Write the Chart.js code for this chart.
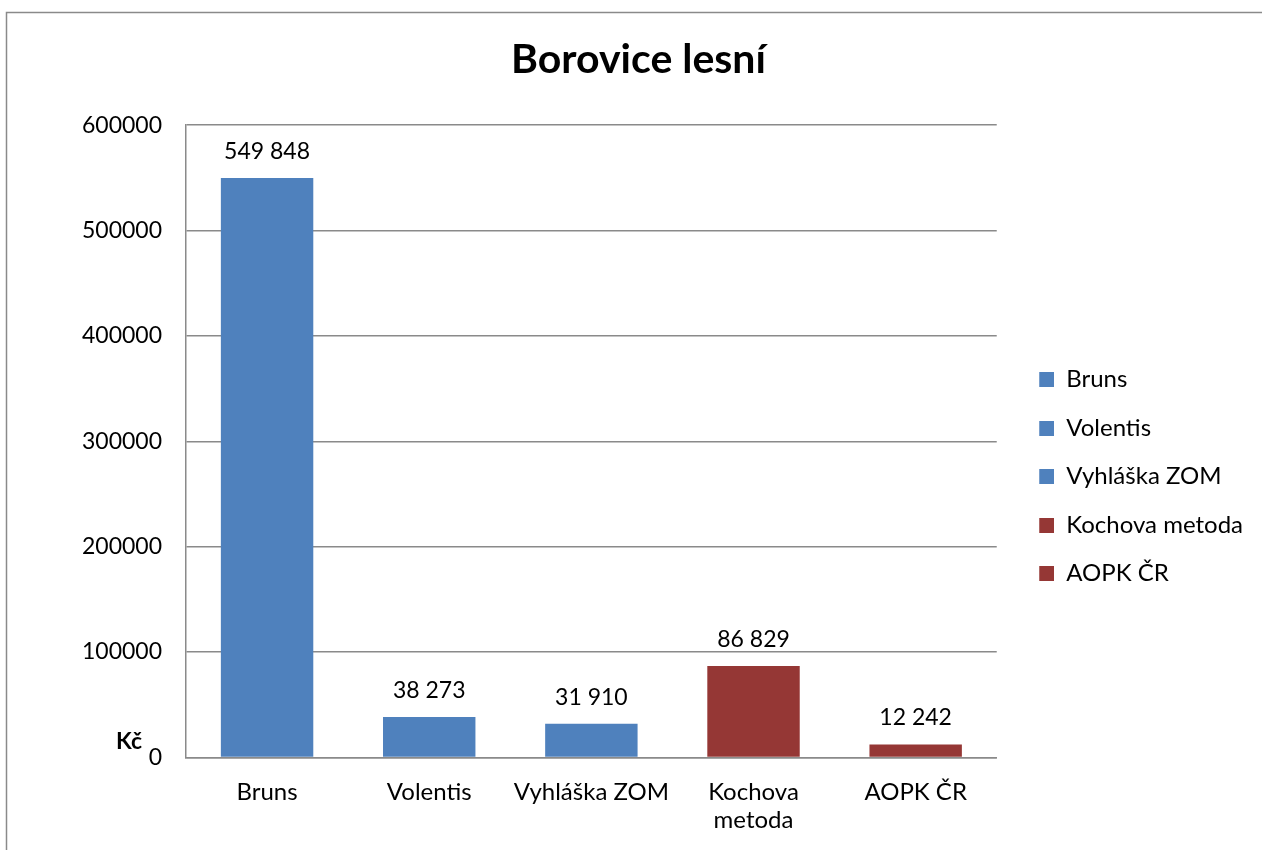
<!DOCTYPE html>
<html>
<head>
<meta charset="utf-8">
<script src="https://cdn.jsdelivr.net/npm/chart.js@4/dist/chart.umd.min.js"></script>
<style>
  html, body { margin: 0; padding: 0; background: #fff; }
  #wrap { width: 1262px; height: 850px; position: relative; }
</style>
</head>
<body>
<div id="wrap"><canvas id="myChart"></canvas></div>
<script>
// data
const categories = ['Bruns', 'Volentis', 'Vyhláška ZOM', 'Kochova metoda', 'AOPK ČR'];
const tickLabels = ['Bruns', 'Volentis', 'Vyhláška ZOM', ['Kochova', 'metoda'], 'AOPK ČR'];
const values = [549848, 38273, 31910, 86829, 12242];
const barColors = ['#4F81BD', '#4F81BD', '#4F81BD', '#953735', '#953735'];
const yTicks = [0, 100000, 200000, 300000, 400000, 500000, 600000];

const FONT = 'Lato';

function fmt(n) {
    return String(n).replace(/\B(?=(\d{3})+(?!\d))/g, ' ');
}

// legend marker: square sitting at the right end of a wider blank box
const MARK_W = 33;
function marker(color) {
    const cv = document.createElement('canvas');
    cv.width = MARK_W;
    cv.height = 15;
    const g = cv.getContext('2d');
    g.fillStyle = color;
    g.fillRect(MARK_W - 15, 0, 15, 15);
    return cv;
}
const markers = barColors.map(marker);

// frame round the chart, "Kč" label and value labels
const extras = {
    id: 'extras',
    beforeDraw(chart) {
        const c = chart.ctx;
        c.save();
        c.strokeStyle = '#8a8a8a';
        c.lineWidth = 1.5;
        c.beginPath();
        c.moveTo(6.5, 900);
        c.lineTo(6.5, 12.5);
        c.lineTo(1300, 12.5);
        c.stroke();
        c.restore();
    },
    afterDatasetsDraw(chart) {
        const c = chart.ctx;
        const y = chart.scales.y;
        c.save();
        c.fillStyle = '#000';
        c.font = 'bold 23px ' + FONT;
        c.textAlign = 'left';
        c.textBaseline = 'middle';
        c.fillText('Kč', 116, y.getPixelForValue(0) - 16);

        c.font = '23px ' + FONT;
        c.textAlign = 'center';
        c.textBaseline = 'bottom';
        chart.getDatasetMeta(0).data.forEach((bar, i) => {
            c.fillText(fmt(values[i]), bar.x, bar.y - 15);
        });
        c.restore();
    }
};

const ctx = document.getElementById('myChart');
new Chart(ctx, {
    type: 'bar',
    data: {
        labels: tickLabels,
        datasets: [{
            data: values,
            backgroundColor: barColors,
            borderWidth: 0,
            barPercentage: 0.57,
            categoryPercentage: 1
        }]
    },
    options: {
        responsive: true,
        maintainAspectRatio: false,
        animation: false,
        layout: { padding: { left: 24, right: 9, top: 8, bottom: -5 } },
        plugins: {
            title: {
                display: true,
                text: 'Borovice lesní',
                color: '#000',
                font: { family: FONT, size: 41, weight: 'bold' },
                padding: { top: 27, bottom: 41 }
            },
            legend: {
                position: 'right',
                title: { display: true, text: '', padding: { top: 76 } },
                labels: {
                    color: '#000',
                    font: { family: FONT, size: 24 },
                    usePointStyle: true,
                    pointStyleWidth: MARK_W,
                    boxHeight: 15,
                    padding: 24.5,
                    generateLabels: () => categories.map((name, i) => ({
                        text: name,
                        fillStyle: barColors[i],
                        strokeStyle: barColors[i],
                        fontColor: '#000',
                        lineWidth: 0,
                        pointStyle: markers[i],
                        rotation: 0,
                        index: i
                    }))
                },
                onClick: () => {}
            },
            tooltip: { enabled: false }
        },
        scales: {
            x: {
                grid: { display: false, drawTicks: false },
                border: { color: '#8a8a8a', width: 1.5 },
                ticks: {
                    color: '#000',
                    font: { family: FONT, size: 24 },
                    padding: 20,
                    maxRotation: 0,
                    autoSkip: false
                }
            },
            y: {
                min: 0,
                max: 600000,
                afterBuildTicks: (axis) => { axis.ticks = yTicks.map(v => ({ value: v })); },
                afterFit: (axis) => { axis.width = 162; },
                grid: { color: '#8a8a8a', lineWidth: 1.5, drawTicks: false },
                border: { color: '#8a8a8a', width: 1.5 },
                ticks: {
                    color: '#000',
                    font: { family: FONT, size: 23 },
                    padding: 24,
                    callback: (v) => String(v)
                }
            }
        }
    },
    plugins: [extras]
});
</script>
</body>
</html>
